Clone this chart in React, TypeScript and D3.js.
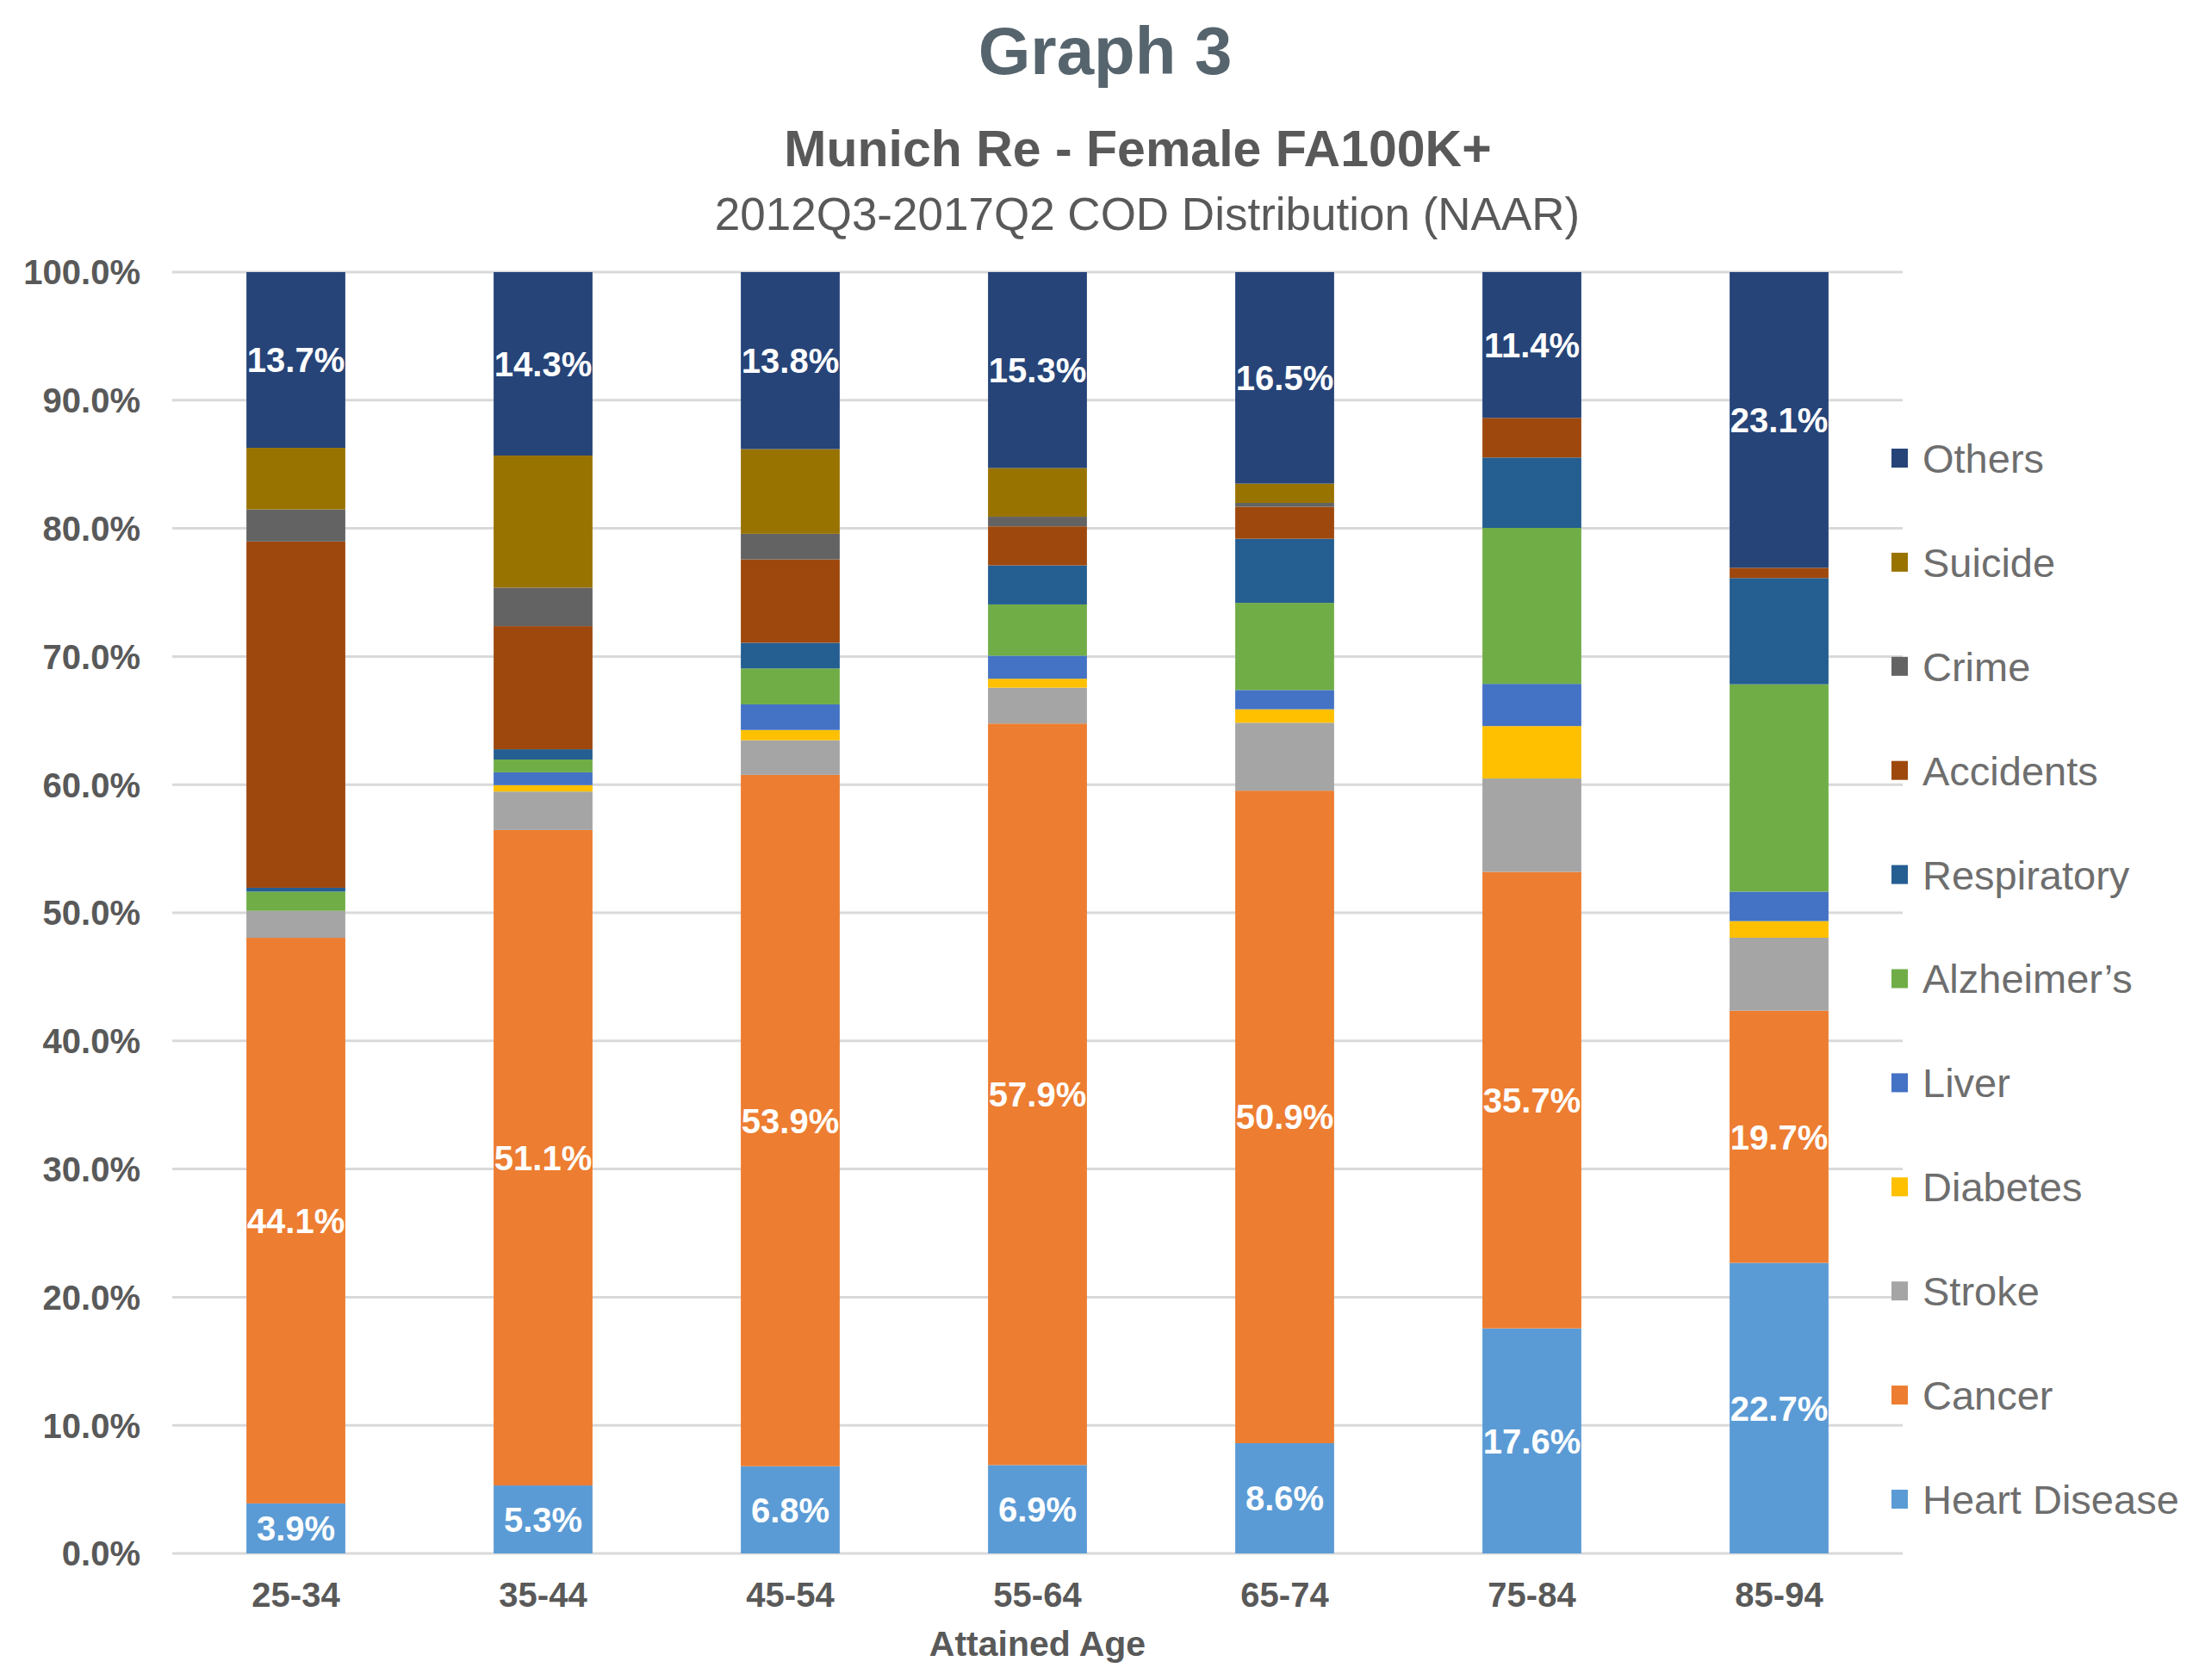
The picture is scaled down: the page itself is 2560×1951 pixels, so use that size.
import * as d3 from "d3";
import { useEffect, useRef } from "react";

const ageGroups = ["25-34", "35-44", "45-54", "55-64", "65-74", "75-84", "85-94"];

const heartDisease = [3.9, 5.3, 6.8, 6.9, 8.6, 17.6, 22.7];
const cancer = [44.1, 51.1, 53.9, 57.9, 50.9, 35.7, 19.7];
const stroke = [2.1, 3.0, 2.7, 2.8, 5.3, 7.3, 5.7];
const diabetes = [0, 0.5, 0.8, 0.7, 1.05, 4.1, 1.3];
const liver = [0, 1.0, 2.0, 1.8, 1.5, 3.3, 2.3];
const alzheimers = [1.5, 1.0, 2.8, 4.0, 6.8, 12.2, 16.2];
const respiratory = [0.3, 0.8, 2.0, 3.05, 5.0, 5.5, 8.3];
const accidents = [27.0, 9.6, 6.5, 3.05, 2.5, 3.1, 0.8];
const crime = [2.5, 3.0, 2.0, 0.75, 0.3, 0, 0];
const suicide = [4.8, 10.3, 6.6, 3.8, 1.5, 0, 0];
const others = [13.7, 14.3, 13.8, 15.3, 16.5, 11.4, 23.1];

const seriesNames = [
  "Heart Disease",
  "Cancer",
  "Stroke",
  "Diabetes",
  "Liver",
  "Alzheimer\u2019s",
  "Respiratory",
  "Accidents",
  "Crime",
  "Suicide",
  "Others",
];
const seriesValues = [
  heartDisease,
  cancer,
  stroke,
  diabetes,
  liver,
  alzheimers,
  respiratory,
  accidents,
  crime,
  suicide,
  others,
];
const seriesColors = [
  "#5B9BD5",
  "#ED7D31",
  "#A5A5A5",
  "#FFC000",
  "#4472C4",
  "#70AD47",
  "#255E91",
  "#9E480E",
  "#636363",
  "#997300",
  "#264478",
];
// only these series carry data labels
const labelled = ["Heart Disease", "Cancer", "Others"];

const yTicks = [0, 0.1, 0.2, 0.3, 0.4, 0.5, 0.6, 0.7, 0.8, 0.9, 1];

const WIDTH = 2560;
const HEIGHT = 1951;
const FONT = "'Liberation Sans', Arial, sans-serif";

export default function App() {
  const svgRef = useRef<SVGSVGElement | null>(null);

  useEffect(() => {
    const margin = { top: 316, right: 351, bottom: 147, left: 200 };
    const w = WIDTH - margin.left - margin.right;
    const h = HEIGHT - margin.top - margin.bottom;

    const rows = ageGroups.map((age, i) => {
      const row: Record<string, number | string> = { age };
      seriesNames.forEach((name, s) => (row[name] = seriesValues[s][i]));
      return row;
    });

    const stacked = d3
      .stack<Record<string, number | string>>()
      .keys(seriesNames)
      .value((d, key) => d[key] as number)
      .offset(d3.stackOffsetExpand)(rows);

    const xScale = d3.scaleBand().domain(ageGroups).range([0, w]).paddingInner(0.6).paddingOuter(0.3);
    const yScale = d3.scaleLinear().domain([0, 1]).range([h, 0]);
    const color = d3.scaleOrdinal<string>().domain(seriesNames).range(seriesColors);

    const svg = d3.select(svgRef.current);
    svg.selectAll("*").remove();

    // titles
    svg
      .append("text")
      .attr("x", 1283)
      .attr("y", 86)
      .attr("text-anchor", "middle")
      .attr("font-family", FONT)
      .attr("font-weight", "bold")
      .attr("font-size", 78)
      .attr("fill", "#56646D")
      .text("Graph 3");
    svg
      .append("text")
      .attr("x", 1321)
      .attr("y", 193)
      .attr("text-anchor", "middle")
      .attr("font-family", FONT)
      .attr("font-weight", "bold")
      .attr("font-size", 59)
      .attr("fill", "#595959")
      .text("Munich Re - Female FA100K+");
    svg
      .append("text")
      .attr("x", 1332)
      .attr("y", 267)
      .attr("text-anchor", "middle")
      .attr("font-family", FONT)
      .attr("font-size", 53)
      .attr("fill", "#595959")
      .text("2012Q3-2017Q2 COD Distribution (NAAR)");

    const group = svg
      .append("g")
      .attr("transform", `translate(${margin.left},${margin.top})`);

    // gridlines
    group
      .append("g")
      .selectAll("line")
      .data(yTicks)
      .join("line")
      .attr("x1", 0)
      .attr("x2", w)
      .attr("y1", (d) => yScale(d))
      .attr("y2", (d) => yScale(d))
      .attr("stroke", "#D9D9D9")
      .attr("stroke-width", 3);

    // y axis labels
    group
      .append("g")
      .selectAll("text")
      .data(yTicks)
      .join("text")
      .attr("x", -37)
      .attr("y", (d) => yScale(d))
      .attr("dy", "0.36em")
      .attr("text-anchor", "end")
      .attr("font-family", FONT)
      .attr("font-weight", "bold")
      .attr("font-size", 40)
      .attr("fill", "#595959")
      .text((d) => d3.format(".1%")(d));

    // bars
    const layers = group
      .append("g")
      .selectAll("g")
      .data(stacked)
      .join("g")
      .attr("fill", (d) => color(d.key));

    layers
      .selectAll("rect")
      .data((d) => d)
      .join("rect")
      .attr("x", (d) => xScale(d.data.age as string)!)
      .attr("width", xScale.bandwidth())
      .attr("y", (d) => yScale(d[1]))
      .attr("height", (d) => Math.max(0, yScale(d[0]) - yScale(d[1])));

    // data labels
    stacked
      .filter((layer) => labelled.includes(layer.key))
      .forEach((layer) => {
        group
          .append("g")
          .selectAll("text")
          .data(layer)
          .join("text")
          .attr("x", (d) => xScale(d.data.age as string)! + xScale.bandwidth() / 2)
          .attr("y", (d) => yScale((d[0] + d[1]) / 2))
          .attr("dy", "0.36em")
          .attr("text-anchor", "middle")
          .attr("font-family", FONT)
          .attr("font-weight", "bold")
          .attr("font-size", 40)
          .attr("fill", "#FFFFFF")
          .text((d) => `${(d.data[layer.key] as number).toFixed(1)}%`);
      });

    // x axis labels
    group
      .append("g")
      .selectAll("text")
      .data(ageGroups)
      .join("text")
      .attr("x", (d) => xScale(d)! + xScale.bandwidth() / 2)
      .attr("y", h + 62)
      .attr("text-anchor", "middle")
      .attr("font-family", FONT)
      .attr("font-weight", "bold")
      .attr("font-size", 40)
      .attr("fill", "#595959")
      .text((d) => d);

    group
      .append("text")
      .attr("x", w / 2)
      .attr("y", h + 119)
      .attr("text-anchor", "middle")
      .attr("font-family", FONT)
      .attr("font-weight", "bold")
      .attr("font-size", 41)
      .attr("fill", "#595959")
      .text("Attained Age");

    // legend, top entry is the top series
    const legendItems = [...seriesNames].reverse();
    const legendY = d3
      .scalePoint()
      .domain(legendItems)
      .range([532, 1741]);

    const legend = svg
      .append("g")
      .selectAll("g")
      .data(legendItems)
      .join("g")
      .attr("transform", (d) => `translate(2196,${legendY(d)})`);

    legend
      .append("rect")
      .attr("x", 0)
      .attr("y", -11)
      .attr("width", 19)
      .attr("height", 22)
      .attr("fill", (d) => color(d));

    legend
      .append("text")
      .attr("x", 36)
      .attr("dy", "0.36em")
      .attr("font-family", FONT)
      .attr("font-size", 47)
      .attr("fill", "#6E6E6E")
      .text((d) => d);
  }, []);

  return (
    <div style={{ position: "absolute", left: 0, top: 0 }}>
      <svg
        ref={svgRef}
        width={WIDTH}
        height={HEIGHT}
        style={{ display: "block", background: "#FFFFFF" }}
      ></svg>
    </div>
  );
}
